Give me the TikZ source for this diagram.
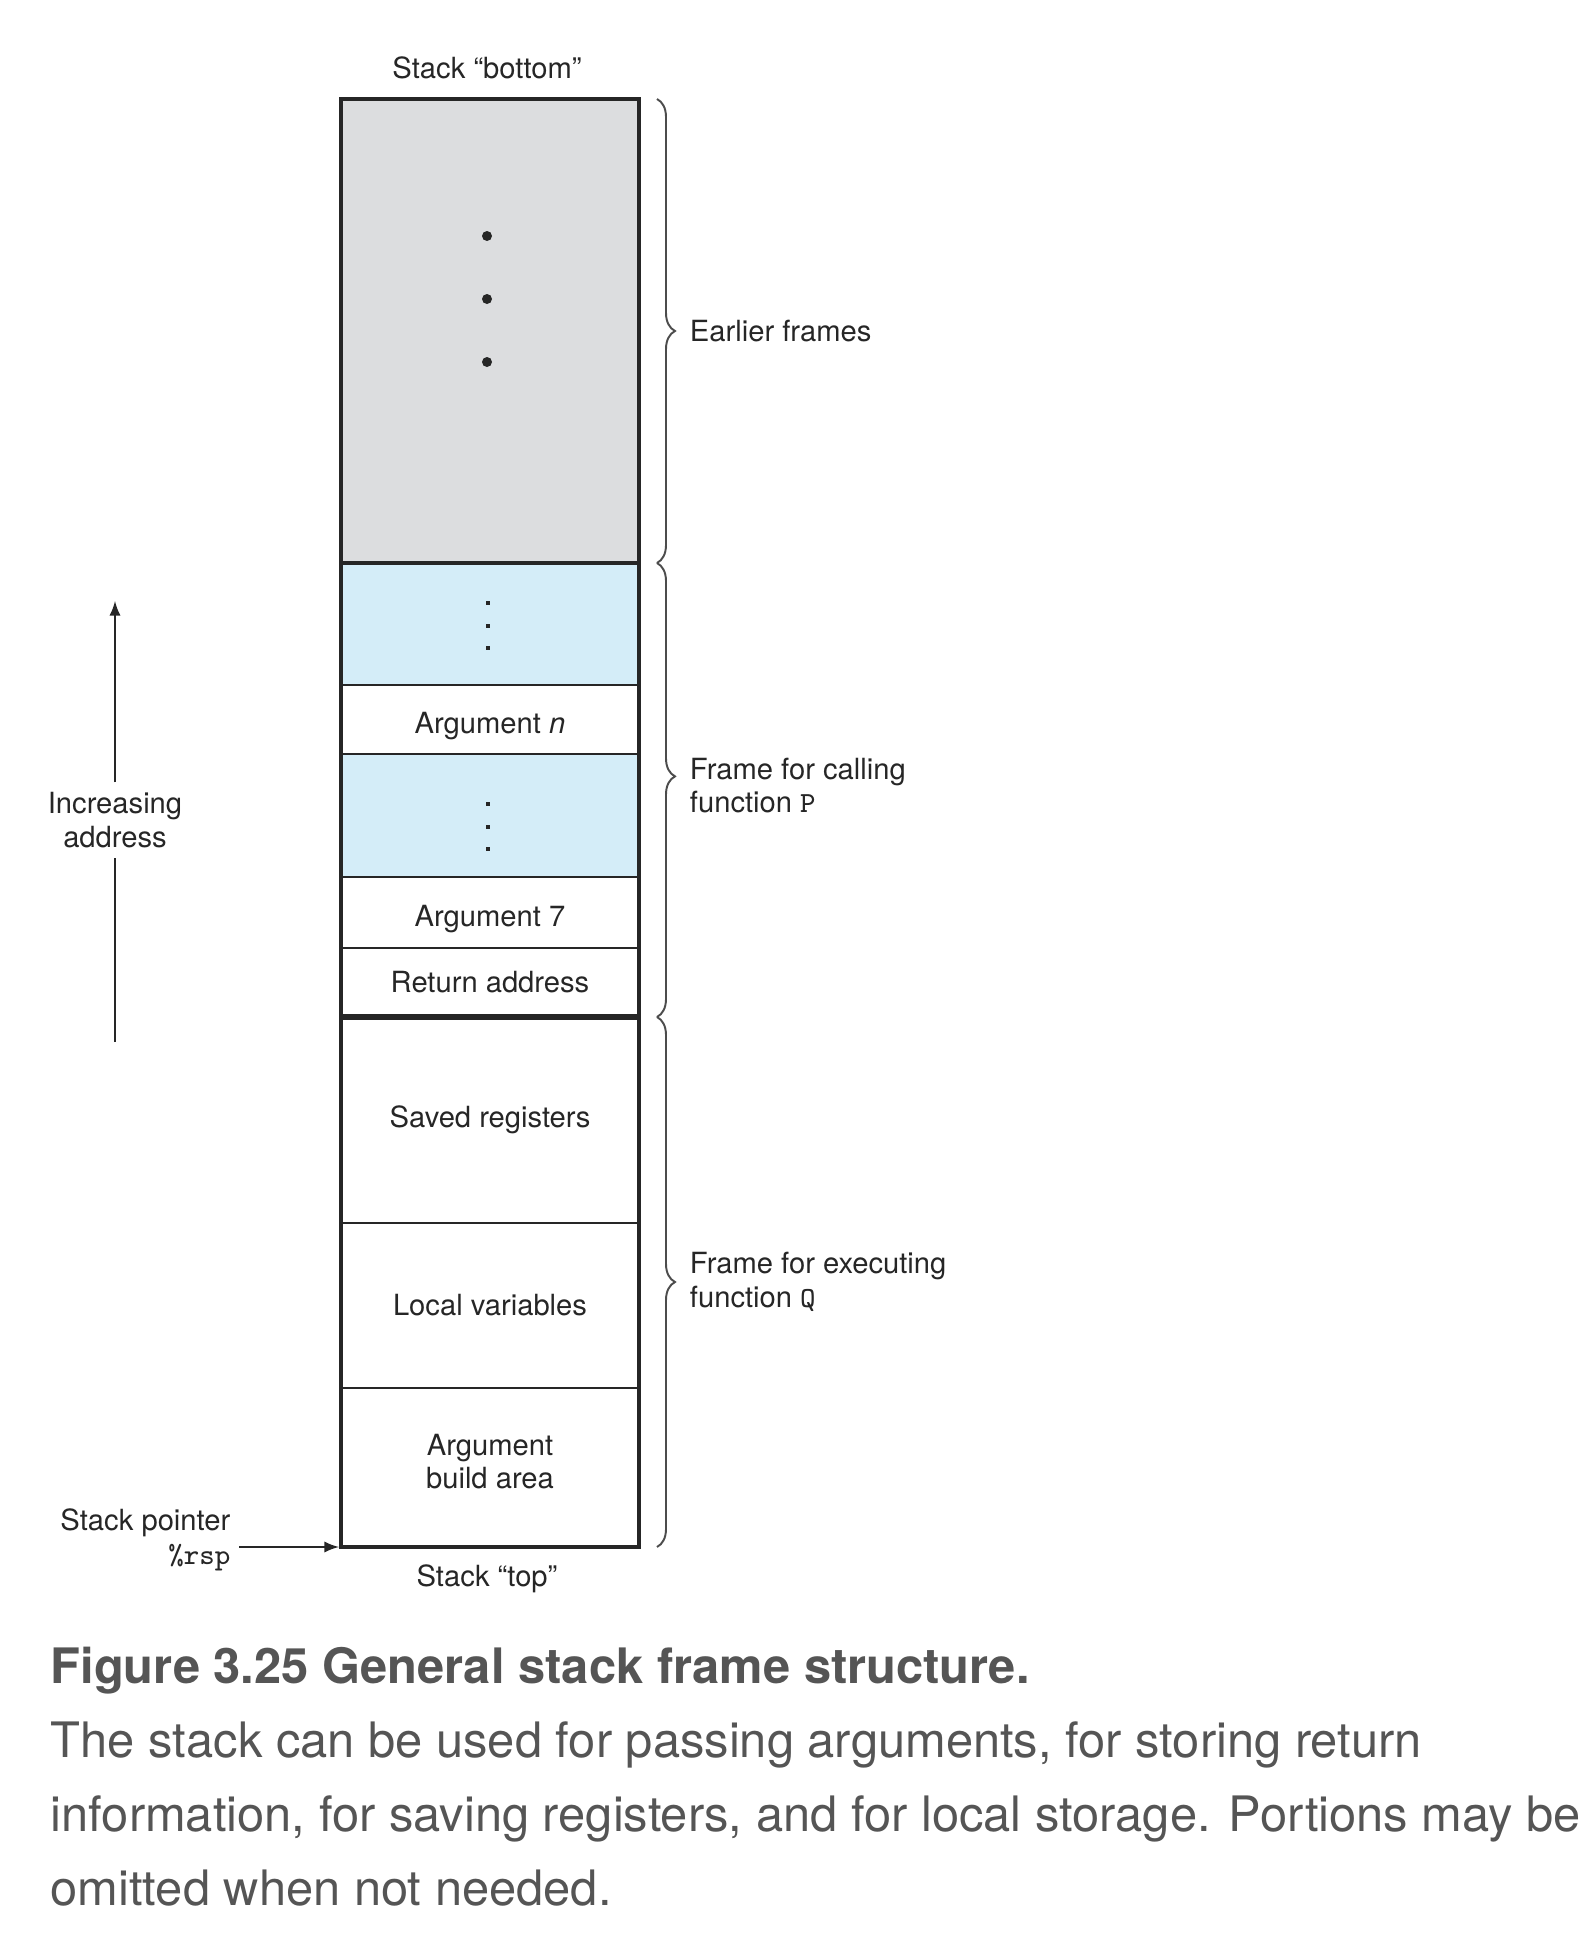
\documentclass[tikz,border=0pt]{standalone}
\usepackage{fontspec}
\setmainfont{TeX Gyre Heros}
\usetikzlibrary{positioning,calc,decorations.pathreplacing}
\definecolor{framegray}{HTML}{DCDDDF}
\definecolor{argblue}{HTML}{D4EDF8}
\definecolor{captiongray}{HTML}{555555}
\tikzset{>=latex, % Use LaTeX arrow tips
  cell/.style={draw=black!85, line width=0.55pt, minimum width=29.8mm,
    inner sep=0pt, outer sep=0pt, align=center},
  lowtext/.style={text height=2.7mm, text depth=0pt},
  outline/.style={draw=black!85, line width=1.15pt},
  arrowline/.style={draw=black!85, line width=0.45pt},
  framebrace/.style={decorate, draw=black!70, line width=0.55pt,
    decoration={brace, amplitude=1.8mm, raise=1.8mm}},
  framelabel/.style={inner sep=0pt, align=left},
  stack diagram/.style={
    x=0.1mm,
    y=-0.1mm,
    text=black!85,
    font={\fontsize{8.3}{9.5}\selectfont},
  },
  caption/.style={inner sep=0pt, align=left, text=captiongray,
    font={\fontsize{13.9}{21}\selectfont}},
}
\newcommand{\blockdot}{+(-2,-2) rectangle +(2,2)}

\begin{document}
\begin{tikzpicture}[stack diagram]
  \useasboundingbox (0,0) rectangle (1596,1944);

  \node [cell, fill=framegray, minimum height=46.4mm] at (490,331) (earlier) {};
  \node [cell, fill=argblue, minimum height=12.2mm, below=0pt of earlier] (dotsn) {};
  \node [cell, lowtext, minimum height=6.9mm, below=0pt of dotsn] (argn) {Argument \textit{n}};
  \node [cell, fill=argblue, minimum height=12.3mm, below=0pt of argn] (dotsseven) {};
  \node [cell, lowtext, minimum height=7.1mm, below=0pt of dotsseven] (argseven) {Argument 7};
  \node [cell, minimum height=6.9mm, below=0pt of argseven] (retaddr) {Return address};
  \node [cell, minimum height=20.6mm, below=0pt of retaddr] (saved) {Saved registers};
  \node [cell, minimum height=16.5mm, below=0pt of saved] (locals) {Local variables};
  \node [cell, text depth=1.2mm, minimum height=15.9mm, below=0pt of locals] (build)
    {Argument\\build area};

  \draw [outline] (earlier.north west) rectangle (build.south east);
  \draw [outline] (earlier.south west) -- (earlier.south east);
  \draw [outline, line width=1.5pt] (retaddr.south west) -- (retaddr.south east);

  \foreach \d in {137,200,263}
    \fill [black!85] ($(earlier.north)+(-3,\d)$) circle (0.5mm);
  \foreach \d in {40,63,85}
    \fill [black!85] ($(dotsn.north)+(-2,\d)$) \blockdot;
  \foreach \d in {50,73,95}
    \fill [black!85] ($(dotsseven.north)+(-2,\d)$) \blockdot;

  \node at ($(earlier.north)+(-3,-31)$) (stackbottom) {Stack ``bottom''};
  \node at ($(build.south)+(-3,32)$) (stacktop) {Stack ``top''};

  \draw [framebrace] (earlier.north east) -- (earlier.south east)
    node [framelabel, midway, right=5mm] (earlierlbl) {Earlier frames};
  \draw [framebrace, decoration={aspect=0.47}] (dotsn.north east) -- (retaddr.south east)
    node [framelabel, pos=0.49, right=5mm] (callerlbl) {Frame for calling\\function \texttt{P}};
  \draw [framebrace] (saved.north east) -- (build.south east)
    node [framelabel, midway, right=5mm] (calleelbl) {Frame for executing\\function \texttt{Q}};

  \node [align=center, inner sep=0pt, minimum height=7.4mm] at (115,820) (incr)
    {Increasing\\address};
  \coordinate (incrlow) at (115,1042);
  \coordinate (incrhigh) at (115,601);
  \draw [arrowline] (incrlow) -- (incr);
  \draw [arrowline, ->] (incr) -- (incrhigh);

  \node [align=right, inner sep=0pt, anchor=east] at (231,1540) (sp)
    {Stack pointer\\\texttt{\%rsp}};
  \draw [arrowline, ->, shorten <=0.8mm, shorten >=0.2mm]
    (sp.east |- build.south west) -- (build.south west);

  \node [caption, anchor=base west, font={\bfseries\fontsize{13.9}{21}\selectfont}]
    at (50,1683) (figtitle) {Figure 3.25 General stack frame structure.};
  \node [caption, anchor=north west] at (50,1721) (figtext)
    {The stack can be used for passing arguments, for storing return\\
     information, for saving registers, and for local storage. Portions may be\\
     omitted when not needed.};
\end{tikzpicture}
\end{document}
